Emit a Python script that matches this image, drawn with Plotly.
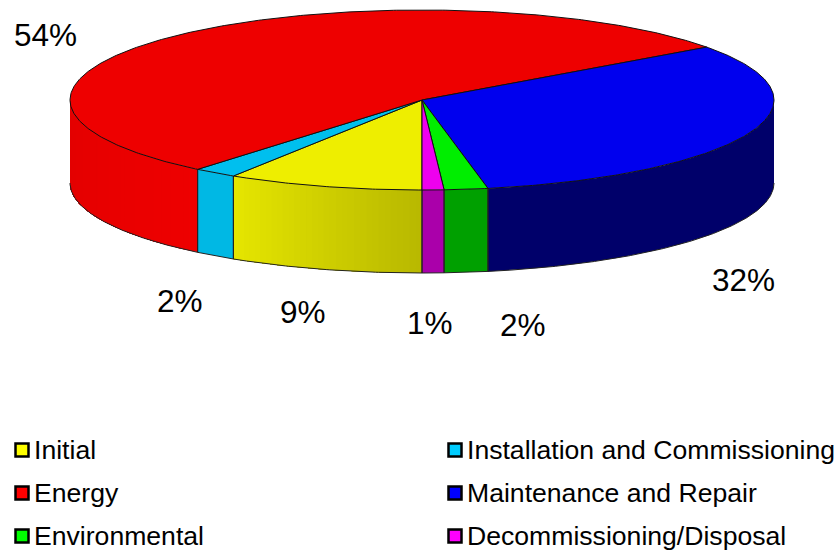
import numpy as np
import plotly.graph_objects as go

categories = ["Initial", "Installation and Commissioning", "Energy",
              "Maintenance and Repair", "Environmental", "Decommissioning/Disposal"]
values = [9, 2, 54, 32, 2, 1]
value_labels = ["9%", "2%", "54%", "32%", "2%", "1%"]

top_colors = ["#EEEE00", "#00BFEE", "#EE0000", "#0000EE", "#00EE00", "#EE00EE"]
key_colors = ["#FFFF00", "#00CCFF", "#FF0000", "#0000FF", "#00FF00", "#FF00FF"]
side_from = [(184, 184, 0), (0, 184, 228), (238, 0, 0), (0, 0, 106), (0, 160, 0), (170, 0, 170)]
side_to = [(230, 230, 0), (0, 184, 228), (226, 0, 0), (0, 0, 106), (0, 160, 0), (170, 0, 170)]

CX, CY, RX, RY, DEPTH = 422, 100, 352, 90, 83
label_pos = [(303, 312), (180, 301), (45, 35), (743, 280), (523, 325), (430, 323)]
legend_rows = [450, 450, 493, 493, 536, 536]
legend_cols = [22, 455, 22, 455, 22, 455]
FONT = "Liberation Sans, Arial, sans-serif"


def ex(a):
    return CX - RX * np.sin(np.radians(a))


def ey(a, drop=0):
    return CY + RY * np.cos(np.radians(a)) + drop


def arc(a0, a1):
    n = max(2, int(abs(a1 - a0) * 2) + 1)
    return np.linspace(a0, a1, n)


fig = go.Figure()
fracs = np.cumsum([0] + values) / sum(values) * 360
spans = list(zip(fracs[:-1], fracs[1:]))


def visible(a0, a1):
    out = []
    for lo, hi in ((0, 90), (270, 360)):
        s, e = max(a0, lo), min(a1, hi)
        if e > s:
            out.append((s, e))
    return out


# Walls of the disc: overlapping strips give the shaded look without seams.
for i, (a0, a1) in enumerate(spans):
    flat = side_from[i] == side_to[i]
    for s, e in visible(a0, a1):
        steps = 1 if flat else max(1, int((e - s) / 1.0))
        edges = np.linspace(s, e, steps + 1)
        for k in range(steps):
            t = (k + 0.5) / steps
            rgb = [round(side_from[i][c] + (side_to[i][c] - side_from[i][c]) * t) for c in range(3)]
            col = f"rgb({rgb[0]},{rgb[1]},{rgb[2]})"
            a = arc(edges[k], e)
            xs = np.concatenate([ex(a), ex(a[::-1])])
            ys = np.concatenate([ey(a), ey(a[::-1], DEPTH)])
            fig.add_trace(go.Scatter(x=xs, y=ys, mode="lines", fill="toself", fillcolor=col,
                                     line=dict(color=col, width=0), hoverinfo="skip", showlegend=False))

# Outline of the wall
for i, (a0, a1) in enumerate(spans):
    for s, e in visible(a0, a1):
        a = arc(s, e)
        fig.add_trace(go.Scatter(x=ex(a), y=ey(a, DEPTH), mode="lines",
                                 line=dict(color="#222222", width=1), hoverinfo="skip", showlegend=False))
        for edge in (s, e):
            if edge in (90, 270):
                continue
            fig.add_trace(go.Scatter(x=[ex(edge), ex(edge)], y=[ey(edge), ey(edge, DEPTH)], mode="lines",
                                     line=dict(color="#222222", width=1), hoverinfo="skip", showlegend=False))

# Top face
for i, (a0, a1) in enumerate(spans):
    a = arc(a0, a1)
    xs = np.concatenate([[CX], ex(a), [CX]])
    ys = np.concatenate([[CY], ey(a), [CY]])
    fig.add_trace(go.Scatter(x=xs, y=ys, mode="lines", fill="toself", fillcolor=top_colors[i],
                             line=dict(color="#111111", width=1), name=categories[i],
                             text=f"{categories[i]}: {value_labels[i]}", hoverinfo="text", showlegend=False))

# Value labels
for i, (lx, ly) in enumerate(label_pos):
    fig.add_annotation(x=lx, y=ly, text=value_labels[i], showarrow=False, xanchor="center", yanchor="middle",
                       font=dict(family=FONT, size=31.5, color="#000000"))

# Legend
for i, cat in enumerate(categories):
    fig.add_trace(go.Scatter(x=[legend_cols[i]], y=[legend_rows[i]], mode="markers",
                             marker=dict(symbol="square", size=13, color=key_colors[i],
                                         line=dict(color="#000000", width=2.5)),
                             name=cat, hoverinfo="name", showlegend=False))
    fig.add_annotation(x=legend_cols[i] + 10, y=legend_rows[i], text=cat, showarrow=False,
                       xanchor="left", yanchor="middle",
                       font=dict(family=FONT, size=26.6, color="#000000"))

fig.update_layout(
    width=839, height=554, margin=dict(l=0, r=0, t=0, b=0),
    paper_bgcolor="#FFFFFF", plot_bgcolor="#FFFFFF", showlegend=False,
    xaxis=dict(range=[0, 839], visible=False, fixedrange=True),
    yaxis=dict(range=[554, 0], visible=False, fixedrange=True),
)
fig.write_html("out.html", config={"displayModeBar": False},
               post_script="document.body.style.margin='0';document.body.style.overflow='hidden';")
